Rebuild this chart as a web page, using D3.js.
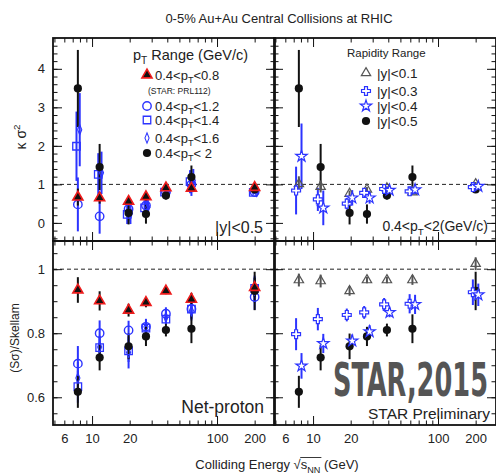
<!DOCTYPE html>
<html>
<head>
<meta charset="utf-8">
<script src="https://cdn.jsdelivr.net/npm/d3@7"></script>
<style>
  body { margin: 0; background: #fff; }
  svg { display: block; font-family: "Liberation Sans", Arial, Helvetica, sans-serif; }
</style>
</head>
<body>
<svg id="chart" width="496" height="476"></svg>
<script>
// collision energies (GeV)
const energies = [7.7, 11.5, 19.6, 27, 39, 62.4, 200];

// kappa*sigma^2, pT dependence (|y|<0.5)
const kurtPt08 = [0.67, 0.65, 0.56, 0.68, 0.91, 0.90, 0.92];
const kurtPt08Err = [0.22, 0.15, 0.10, 0.10, 0.08, 0.10, 0.05];
const kurtPt12 = [0.48, 0.17, 0.36, 0.45, 0.80, 1.00, 0.80];
const kurtPt12Err = [0.70, 0.45, 0.30, 0.25, 0.10, 0.30, 0.05];
const kurtPt14 = [1.99, 1.26, 0.22, 0.39, 0.80, 1.07, 0.79];
const kurtPt14Err = [0.90, 0.55, 0.25, 0.20, 0.10, 0.30, 0.06];
const kurtPt16 = [2.42, 1.30, 0.25, 0.40, 0.78, 1.10, 0.82];
const kurtPt16Err = [0.95, 0.55, 0.28, 0.22, 0.10, 0.30, 0.06];
const kurtPt20 = [3.49, 1.45, 0.26, 0.23, 0.71, 1.19, 0.87];
const kurtPt20Err = [1.00, 0.60, 0.30, 0.25, 0.10, 0.30, 0.08];

// kappa*sigma^2, rapidity dependence (0.4<pT<2)
const kurtY01 = [1.01, 0.94, 0.76, 0.87, 0.90, 0.80, 1.01];
const kurtY01Err = [0.20, 0.15, 0.08, 0.06, 0.05, 0.07, 0.05];
const kurtY03 = [0.84, 0.61, 0.50, 0.78, 0.88, 0.82, 0.93];
const kurtY03Err = [0.62, 0.30, 0.15, 0.12, 0.08, 0.12, 0.06];
const kurtY04 = [1.73, 0.39, 0.65, 0.65, 0.85, 0.86, 0.95];
const kurtY04Err = [0.85, 0.45, 0.20, 0.15, 0.08, 0.12, 0.06];
const kurtY05 = kurtPt20;
const kurtY05Err = kurtPt20Err;

// S*sigma / Skellam, pT dependence
const ssPt08 = [0.935, 0.901, 0.872, 0.896, 0.932, 0.906, 0.943];
const ssPt08Err = [0.040, 0.030, 0.020, 0.015, 0.010, 0.020, 0.030];
const ssPt12 = [0.705, 0.800, 0.809, 0.820, 0.861, 0.876, 0.913];
const ssPt12Err = [0.055, 0.040, 0.030, 0.025, 0.020, 0.030, 0.040];
const ssPt14 = [0.633, 0.755, 0.745, 0.816, 0.844, 0.875, 0.940];
const ssPt14Err = [0.050, 0.035, 0.035, 0.020, 0.015, 0.030, 0.040];
const ssPt16 = [0.660, 0.757, 0.740, 0.820, 0.850, 0.870, 0.935];
const ssPt16Err = [0.050, 0.035, 0.050, 0.020, 0.020, 0.030, 0.040];
const ssPt20 = [0.617, 0.724, 0.759, 0.790, 0.810, 0.814, 0.932];
const ssPt20Err = [0.050, 0.040, 0.040, 0.030, 0.020, 0.045, 0.060];

// S*sigma / Skellam, rapidity dependence
const ssY01 = [0.966, 0.963, 0.932, 0.966, 0.966, 0.966, 1.017];
const ssY01Err = [0.020, 0.020, 0.015, 0.010, 0.010, 0.015, 0.020];
const ssY03 = [0.797, 0.844, 0.857, 0.865, 0.890, 0.892, 0.928];
const ssY03Err = [0.050, 0.035, 0.020, 0.020, 0.020, 0.030, 0.040];
const ssY04 = [0.698, 0.768, 0.776, 0.805, 0.865, 0.890, 0.920];
const ssY04Err = [0.040, 0.030, 0.020, 0.020, 0.015, 0.030, 0.035];
const ssY05 = ssPt20;
const ssY05Err = ssPt20Err;

// axis ticks
const xTickLabels = [6, 10, 20, 100, 200];
const xMajorTicks = [10, 100];
const xMinorTicks = [5, 6, 7, 8, 9, 20, 30, 40, 50, 60, 70, 80, 90, 200];
const kurtTickLabels = [0, 1, 2, 3, 4];
const ssTickLabels = [0.6, 0.8, 1];

const svg = d3.select("#chart");
const blue = "#2c34ff", red = "#ee1c1c", ink = "#111", grey = "#555";

// scales: the two columns share the same log axis, shifted
const xDomain = [4.87, 291];
const xLeft = d3.scaleLog().domain(xDomain).range([53, 275]);
const xRight = d3.scaleLog().domain(xDomain).range([274, 496]);
const yTop = d3.scaleLinear().domain([-0.47, 4.8]).range([241, 38]);
const yBot = d3.scaleLinear().domain([0.5134, 1.088]).range([425, 241]);

// marker styles
const markers = {
  tri:        { path: d3.symbol(d3.symbolTriangle, 44)(), fill: ink, stroke: red, sw: 1.6, err: ink },
  openCircle: { circle: 4.2, fill: "none", stroke: blue, sw: 1.4, err: blue },
  openSquare: { path: d3.symbol(d3.symbolSquare, 56)(), fill: "none", stroke: blue, sw: 1.3, err: blue },
  openDiamond:{ path: d3.symbol(d3.symbolDiamond, 30)(), scale: " scale(0.7,1)", fill: "none", stroke: blue, sw: 1.4, err: blue },
  dot:        { circle: 4.1, fill: ink, stroke: "none", sw: 0, err: ink },
  openTri:    { path: d3.symbol(d3.symbolTriangle, 38)(), fill: "none", stroke: grey, sw: 1.2, err: grey },
  openCross:  { path: d3.symbol(d3.symbolCross, 44)(), fill: "#fff", stroke: blue, sw: 1.2, err: blue },
  openStar:   { path: d3.symbol(d3.symbolStar, 40)(), fill: "#fff", stroke: blue, sw: 1.2, err: blue }
};

function drawMarkers(g, pts, style) {
  const m = markers[style];
  if (m.circle) {
    g.selectAll(null).data(pts).join("circle")
      .attr("cx", d => d.px).attr("cy", d => d.py).attr("r", m.circle)
      .attr("fill", m.fill).attr("stroke", m.stroke).attr("stroke-width", m.sw);
  } else {
    g.selectAll(null).data(pts).join("path")
      .attr("d", m.path)
      .attr("transform", d => `translate(${d.px},${d.py})${m.scale || ""}`)
      .attr("fill", m.fill).attr("stroke", m.stroke).attr("stroke-width", m.sw);
  }
}

// text with _x / ^x sub- and superscripts
function richText(g, str, x, y, size, anchor) {
  const t = g.append("text").attr("x", x).attr("y", y)
    .attr("font-size", size).attr("text-anchor", anchor || "start");
  const re = /([_^])(\{[^}]*\}|.)/g;
  let last = 0, m, shift = 0;
  while ((m = re.exec(str))) {
    if (m.index > last) { t.append("tspan").attr("dy", -shift).text(str.slice(last, m.index)); shift = 0; }
    const d = m[1] === "_" ? size * 0.3 : -size * 0.4;
    t.append("tspan").attr("dy", d - shift).attr("font-size", size * 0.7).text(m[2].replace(/[{}]/g, ""));
    shift = d;
    last = re.lastIndex;
  }
  if (last < str.length) t.append("tspan").attr("dy", -shift).text(str.slice(last));
  return t;
}

const ptSeriesKurt = [
  { v: kurtPt12, e: kurtPt12Err, style: "openCircle", f: 1 },
  { v: kurtPt14, e: kurtPt14Err, style: "openSquare", f: 0.975 },
  { v: kurtPt16, e: kurtPt16Err, style: "openDiamond", f: 1.035 },
  { v: kurtPt20, e: kurtPt20Err, style: "dot", f: 1 },
  { v: kurtPt08, e: kurtPt08Err, style: "tri", f: 1 }
];
const ySeriesKurt = [
  { v: kurtY05, e: kurtY05Err, style: "dot", f: 1 },
  { v: kurtY01, e: kurtY01Err, style: "openTri", f: 1 },
  { v: kurtY03, e: kurtY03Err, style: "openCross", f: 0.95 },
  { v: kurtY04, e: kurtY04Err, style: "openStar", f: 1.05 }
];
const ptSeriesSs = [
  { v: ssPt12, e: ssPt12Err, style: "openCircle", f: 1 },
  { v: ssPt14, e: ssPt14Err, style: "openSquare", f: 1 },
  { v: ssPt16, e: ssPt16Err, style: "openDiamond", f: 1 },
  { v: ssPt20, e: ssPt20Err, style: "dot", f: 1 },
  { v: ssPt08, e: ssPt08Err, style: "tri", f: 1 }
];
const ySeriesSs = [
  { v: ssY05, e: ssY05Err, style: "dot", f: 1 },
  { v: ssY01, e: ssY01Err, style: "openTri", f: 1 },
  { v: ssY03, e: ssY03Err, style: "openCross", f: 0.95 },
  { v: ssY04, e: ssY04Err, style: "openStar", f: 1.05 }
];

const panels = [
  { id: "tl", x: xLeft, y: yTop, series: ptSeriesKurt, yLabels: kurtTickLabels, xLabels: false, major: kurtTickLabels, minor: d3.range(-0.4, 4.81, 0.2) },
  { id: "tr", x: xRight, y: yTop, series: ySeriesKurt, yLabels: null, xLabels: false, major: kurtTickLabels, minor: d3.range(-0.4, 4.81, 0.2) },
  { id: "bl", x: xLeft, y: yBot, series: ptSeriesSs, yLabels: ssTickLabels, xLabels: true, major: [0.6, 0.8, 1], minor: d3.range(0.55, 1.08, 0.05) },
  { id: "br", x: xRight, y: yBot, series: ySeriesSs, yLabels: null, xLabels: true, major: [0.6, 0.8, 1], minor: d3.range(0.55, 1.08, 0.05) }
];

panels.forEach(p => {
  const [x0, x1] = p.x.range();
  const [y1, y0] = p.y.range();
  const g = svg.append("g");

  g.append("clipPath").attr("id", "clip-" + p.id)
    .append("rect").attr("x", x0).attr("y", y0).attr("width", x1 - x0).attr("height", y1 - y0);

  // dashed reference line at 1
  g.append("line")
    .attr("x1", x0).attr("x2", x1).attr("y1", p.y(1)).attr("y2", p.y(1))
    .attr("stroke", "#222").attr("stroke-width", 1).attr("stroke-dasharray", "4,3");

  // inward ticks on all four sides
  const noDomain = s => s.select(".domain").remove();
  const tickStyle = s => s.selectAll("line").attr("stroke", ink).attr("stroke-width", 1);
  [[d3.axisBottom, y1], [d3.axisTop, y0]].forEach(([ax, yy]) => {
    g.append("g").attr("transform", `translate(0,${yy})`)
      .call(ax(p.x).tickValues(xMajorTicks).tickSize(-9).tickFormat("")).call(noDomain).call(tickStyle);
    g.append("g").attr("transform", `translate(0,${yy})`)
      .call(ax(p.x).tickValues(xMinorTicks).tickSize(-4.5).tickFormat("")).call(noDomain).call(tickStyle);
  });
  [[d3.axisLeft, x0], [d3.axisRight, x1]].forEach(([ax, xx]) => {
    g.append("g").attr("transform", `translate(${xx},0)`)
      .call(ax(p.y).tickValues(p.major).tickSize(-9).tickFormat("")).call(noDomain).call(tickStyle);
    g.append("g").attr("transform", `translate(${xx},0)`)
      .call(ax(p.y).tickValues(p.minor.filter(v => v > p.y.domain()[0] && v < p.y.domain()[1])).tickSize(-4.5).tickFormat(""))
      .call(noDomain).call(tickStyle);
  });

  if (p.xLabels) {
    g.append("g").attr("transform", `translate(0,${y1})`)
      .call(d3.axisBottom(p.x).tickValues(xTickLabels).tickSize(0).tickPadding(9).tickFormat(d3.format("d")))
      .call(noDomain)
      .call(s => s.selectAll("text").attr("font-size", 13).attr("fill", "#222").attr("font-family", null));
  }
  if (p.yLabels) {
    g.append("g").attr("transform", `translate(${x0},0)`)
      .call(d3.axisLeft(p.y).tickValues(p.yLabels).tickSize(0).tickPadding(8).tickFormat(d => String(d)))
      .call(noDomain)
      .call(s => s.selectAll("text").attr("font-size", 13).attr("fill", "#222").attr("font-family", null));
  }

  // data: error bars then markers
  const data = g.append("g").attr("clip-path", `url(#clip-${p.id})`);
  p.series.forEach(s => {
    const pts = energies.map((en, i) => ({
      px: p.x(en * s.f), py: p.y(s.v[i]),
      lo: p.y(s.v[i] - s.e[i]), hi: p.y(s.v[i] + s.e[i])
    }));
    data.selectAll(null).data(pts).join("line")
      .attr("x1", d => d.px).attr("x2", d => d.px)
      .attr("y1", d => d.lo).attr("y2", d => d.hi)
      .attr("stroke", markers[s.style].err).attr("stroke-width", 2);
  });
  p.series.forEach(s => {
    const pts = energies.map((en, i) => ({ px: p.x(en * s.f), py: p.y(s.v[i]) }));
    drawMarkers(data, pts, s.style);
  });

  // frame
  g.append("rect").attr("x", x0).attr("y", y0).attr("width", x1 - x0).attr("height", y1 - y0)
    .attr("fill", "none").attr("stroke", ink).attr("stroke-width", 1.8);
});

// legends
const leg = svg.append("g").attr("fill", "#222");
richText(leg, "p_T Range (GeV/c)", 133, 60, 14.5);
const ptLegend = [
  { style: "tri", label: "0.4<p_T<0.8", y: 75 },
  { style: "openCircle", label: "0.4<p_T<1.2", y: 106 },
  { style: "openSquare", label: "0.4<p_T<1.4", y: 120 },
  { style: "openDiamond", label: "0.4<p_T<1.6", y: 138 },
  { style: "dot", label: "0.4<p_T< 2", y: 153 }
];
ptLegend.forEach(d => {
  drawMarkers(leg, [{ px: 147, py: d.y }], d.style);
  richText(leg, d.label, 155, d.y + 4.5, 13);
});
leg.append("text").attr("x", 148).attr("y", 94).attr("font-size", 8.5).text("(STAR: PRL112)");

richText(leg, "Rapidity Range", 347, 57, 11.5);
const yLegend = [
  { style: "openTri", label: "|y|<0.1", y: 73 },
  { style: "openCross", label: "|y|<0.3", y: 91 },
  { style: "openStar", label: "|y|<0.4", y: 106 },
  { style: "dot", label: "|y|<0.5", y: 121 }
];
yLegend.forEach(d => {
  drawMarkers(leg, [{ px: 366, py: d.y }], d.style);
  richText(leg, d.label, 377, d.y + 5, 13.5);
});

// panel annotations
richText(leg, "|y|<0.5", 263, 233, 16, "end");
richText(leg, "0.4<p_T<2(GeV/c)", 488, 231, 14, "end");
richText(leg, "Net-proton", 264, 413, 17.5, "end");
leg.append("text").attr("x", 333).attr("y", 396)
  .attr("font-family", "'DejaVu Sans Condensed', 'Liberation Sans Narrow', sans-serif")
  .attr("font-weight", "bold").attr("font-size", 46).attr("fill", "#555")
  .attr("textLength", 155).attr("lengthAdjust", "spacingAndGlyphs").text("STAR,2015");
richText(leg, "STAR Preliminary", 490, 419, 15.5, "end");

// titles
richText(svg, "0-5% Au+Au Central Collisions at RHIC", 279, 23, 13, "middle").attr("fill", "#222");
const xt = richText(svg, "Colliding Energy \u221As_{NN} (GeV)", 277, 469, 13, "middle").attr("fill", "#222");
try {
  const n = xt.node();
  const a = n.getStartPositionOfChar(18).x, b = n.getEndPositionOfChar(20).x;
  svg.append("line").attr("x1", a - 0.5).attr("x2", b + 1).attr("y1", 457.5).attr("y2", 457.5)
    .attr("stroke", "#222").attr("stroke-width", 0.9);
} catch (err) { console.error(err); }

svg.append("g").attr("transform", "translate(26,137) rotate(-90)")
  .call(g => richText(g, "\u03BA \u03C3^2", 0, 0, 14, "middle").attr("fill", "#222"));
svg.append("g").attr("transform", "translate(19,338) rotate(-90)")
  .call(g => richText(g, "(S\u03C3)/Skellam", 0, 0, 12, "middle").attr("fill", "#222"));
</script>
</body>
</html>
